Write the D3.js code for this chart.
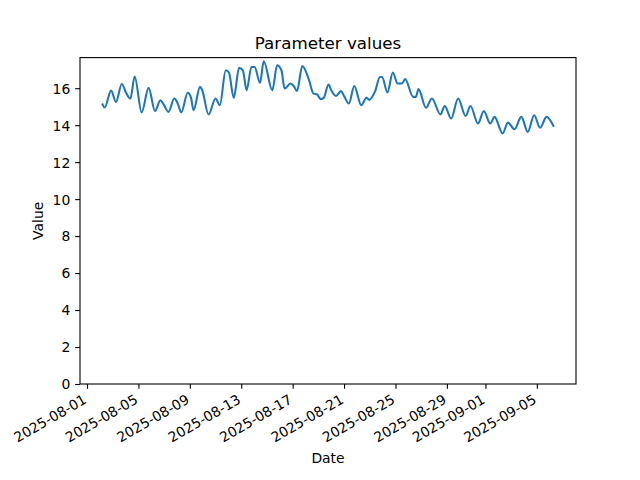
<!DOCTYPE html>
<html><head><meta charset="utf-8">
<script src="https://cdn.jsdelivr.net/npm/d3@7"></script>
<style>
html,body{margin:0;padding:0;background:#fff;}
svg text{font-family:"DejaVu Sans",sans-serif;fill:#000;}
</style></head>
<body><svg id="c" width="640" height="480"></svg>
<script>
const title = "Parameter values";
const xLabel = "Date";
const yLabel = "Value";
const dates = [
"2025-08-02T05:00","2025-08-02T09:00","2025-08-02T21:00","2025-08-03T06:00","2025-08-03T17:00",
"2025-08-04T01:00","2025-08-04T09:00","2025-08-04T17:00","2025-08-05T06:00","2025-08-05T19:00",
"2025-08-06T07:00","2025-08-06T17:00","2025-08-06T23:00","2025-08-07T08:00","2025-08-07T19:00",
"2025-08-08T01:00","2025-08-08T08:00","2025-08-08T20:00","2025-08-09T02:00","2025-08-09T07:00",
"2025-08-09T19:00","2025-08-09T23:00","2025-08-10T11:00","2025-08-11T00:00","2025-08-11T08:00",
"2025-08-11T19:00","2025-08-12T01:00","2025-08-12T10:00","2025-08-12T20:00","2025-08-13T03:00",
"2025-08-13T10:00","2025-08-13T19:00","2025-08-14T01:00","2025-08-14T11:00","2025-08-14T18:00",
"2025-08-15T10:00","2025-08-15T19:00","2025-08-16T03:00","2025-08-16T09:00","2025-08-16T20:00",
"2025-08-17T02:00","2025-08-17T08:00","2025-08-17T18:00","2025-08-18T06:00","2025-08-18T15:00",
"2025-08-18T22:00","2025-08-19T04:00","2025-08-19T10:00","2025-08-19T19:00","2025-08-20T00:00",
"2025-08-20T09:00","2025-08-20T18:00","2025-08-21T00:00","2025-08-21T09:00","2025-08-21T19:00",
"2025-08-22T08:00","2025-08-22T18:00","2025-08-22T23:00","2025-08-23T10:00","2025-08-23T19:00",
"2025-08-23T23:00","2025-08-24T09:00","2025-08-24T19:00","2025-08-25T04:00","2025-08-25T12:00",
"2025-08-25T18:00","2025-08-26T09:00","2025-08-26T14:00","2025-08-26T19:00","2025-08-27T09:00",
"2025-08-27T20:00","2025-08-28T12:00","2025-08-28T20:00","2025-08-29T08:00","2025-08-29T21:00",
"2025-08-30T11:00","2025-08-30T20:00","2025-08-31T10:00","2025-08-31T21:00","2025-09-01T09:00",
"2025-09-01T17:00","2025-09-02T08:00","2025-09-02T18:00","2025-09-03T06:00","2025-09-03T19:00",
"2025-09-04T07:00","2025-09-04T19:00","2025-09-05T06:00","2025-09-05T18:00","2025-09-06T07:00"
];
const values = [
15.12,14.96,15.87,15.26,16.23,
15.75,15.44,16.63,14.69,16.02,
14.76,15.35,15.12,14.72,15.44,
15.20,14.69,15.75,15.50,14.81,
16.07,15.90,14.58,15.44,15.08,
16.97,16.85,15.48,17.10,16.97,
15.89,17.15,17.15,16.29,17.46,
15.89,17.24,16.97,15.98,16.25,
16.12,15.84,17.20,16.49,15.71,
15.66,15.41,15.48,16.20,15.89,
15.58,15.84,15.58,15.17,16.12,
15.08,15.48,15.37,15.84,16.61,
16.61,15.77,16.85,16.25,16.25,
16.49,15.53,15.53,15.95,14.94,
15.44,14.58,15.04,14.36,15.44,
14.50,15.04,14.09,14.76,14.09,
14.45,13.55,14.14,13.78,14.45,
13.64,14.54,13.86,14.45,13.96
];
const xTicks = ["2025-08-01","2025-08-05","2025-08-09","2025-08-13","2025-08-17","2025-08-21","2025-08-25","2025-08-29","2025-09-01","2025-09-05"];
const yTicks = [0,2,4,6,8,10,12,14,16];

const parseT = d3.timeParse("%Y-%m-%dT%H:%M");
const parseD = d3.timeParse("%Y-%m-%d");
const data = dates.map((d,i)=>({t:parseT(d), v:values[i]}));

const W=640,H=480, L=80, R=576, T=57.6, B=384;
const svg = d3.select("#c");

const tExt = d3.extent(data,d=>d.t);
const span = tExt[1]-tExt[0];
const x = d3.scaleTime().domain([new Date(+tExt[0]-0.05*span), new Date(+tExt[1]+0.05*span)]).range([L,R]);
const vMin = d3.min(values), vMax = d3.max(values);
const y = d3.scaleLinear().domain([0, vMax+0.05*(vMax-vMin)]).range([B,T]);

const fs = 13.9;
// line
svg.append("path").datum(data)
  .attr("fill","none").attr("stroke","#1f77b4").attr("stroke-width",2.08)
  .attr("stroke-linejoin","round").attr("stroke-linecap","square")
  .attr("d", d3.line().x(d=>x(d.t)).y(d=>y(d.v)).curve(d3.curveMonotoneX));

// axes
const xAxis = svg.append("g").attr("transform",`translate(0,${B})`)
  .call(d3.axisBottom(x).tickValues(xTicks.map(parseD)).tickFormat(d3.timeFormat("%Y-%m-%d")).tickSizeOuter(0).tickSize(4.86).tickPadding(4.86));
xAxis.select(".domain").remove();
xAxis.selectAll(".tick line").attr("stroke","#000").attr("stroke-width",1.1);
xAxis.selectAll(".tick text")
  .attr("font-size",fs).attr("text-anchor","end")
  .attr("y",0).attr("dy","0.72em")
  .attr("transform","translate(-5,9.7) rotate(-30)");

const yAxis = svg.append("g").attr("transform",`translate(${L},0)`)
  .call(d3.axisLeft(y).tickValues(yTicks).tickFormat(d3.format("d")).tickSizeOuter(0).tickSize(4.86).tickPadding(4.86));
yAxis.select(".domain").remove();
yAxis.selectAll(".tick line").attr("stroke","#000").attr("stroke-width",1.1);
yAxis.selectAll(".tick text").attr("font-size",fs).attr("dy","0.35em");

// spines
svg.append("rect").attr("x",L).attr("y",T).attr("width",R-L).attr("height",B-T)
  .attr("fill","none").attr("stroke","#000").attr("stroke-width",1.1);

// labels
svg.append("text").attr("x",(L+R)/2).attr("y",T-8.3).attr("text-anchor","middle")
  .attr("font-size",16.7).text(title);
svg.append("text").attr("x",(L+R)/2).attr("y",463).attr("text-anchor","middle")
  .attr("font-size",fs).text(xLabel);
svg.append("text").attr("transform",`translate(43,${(T+B)/2}) rotate(-90)`).attr("text-anchor","middle")
  .attr("font-size",fs).text(yLabel);
</script></body></html>
